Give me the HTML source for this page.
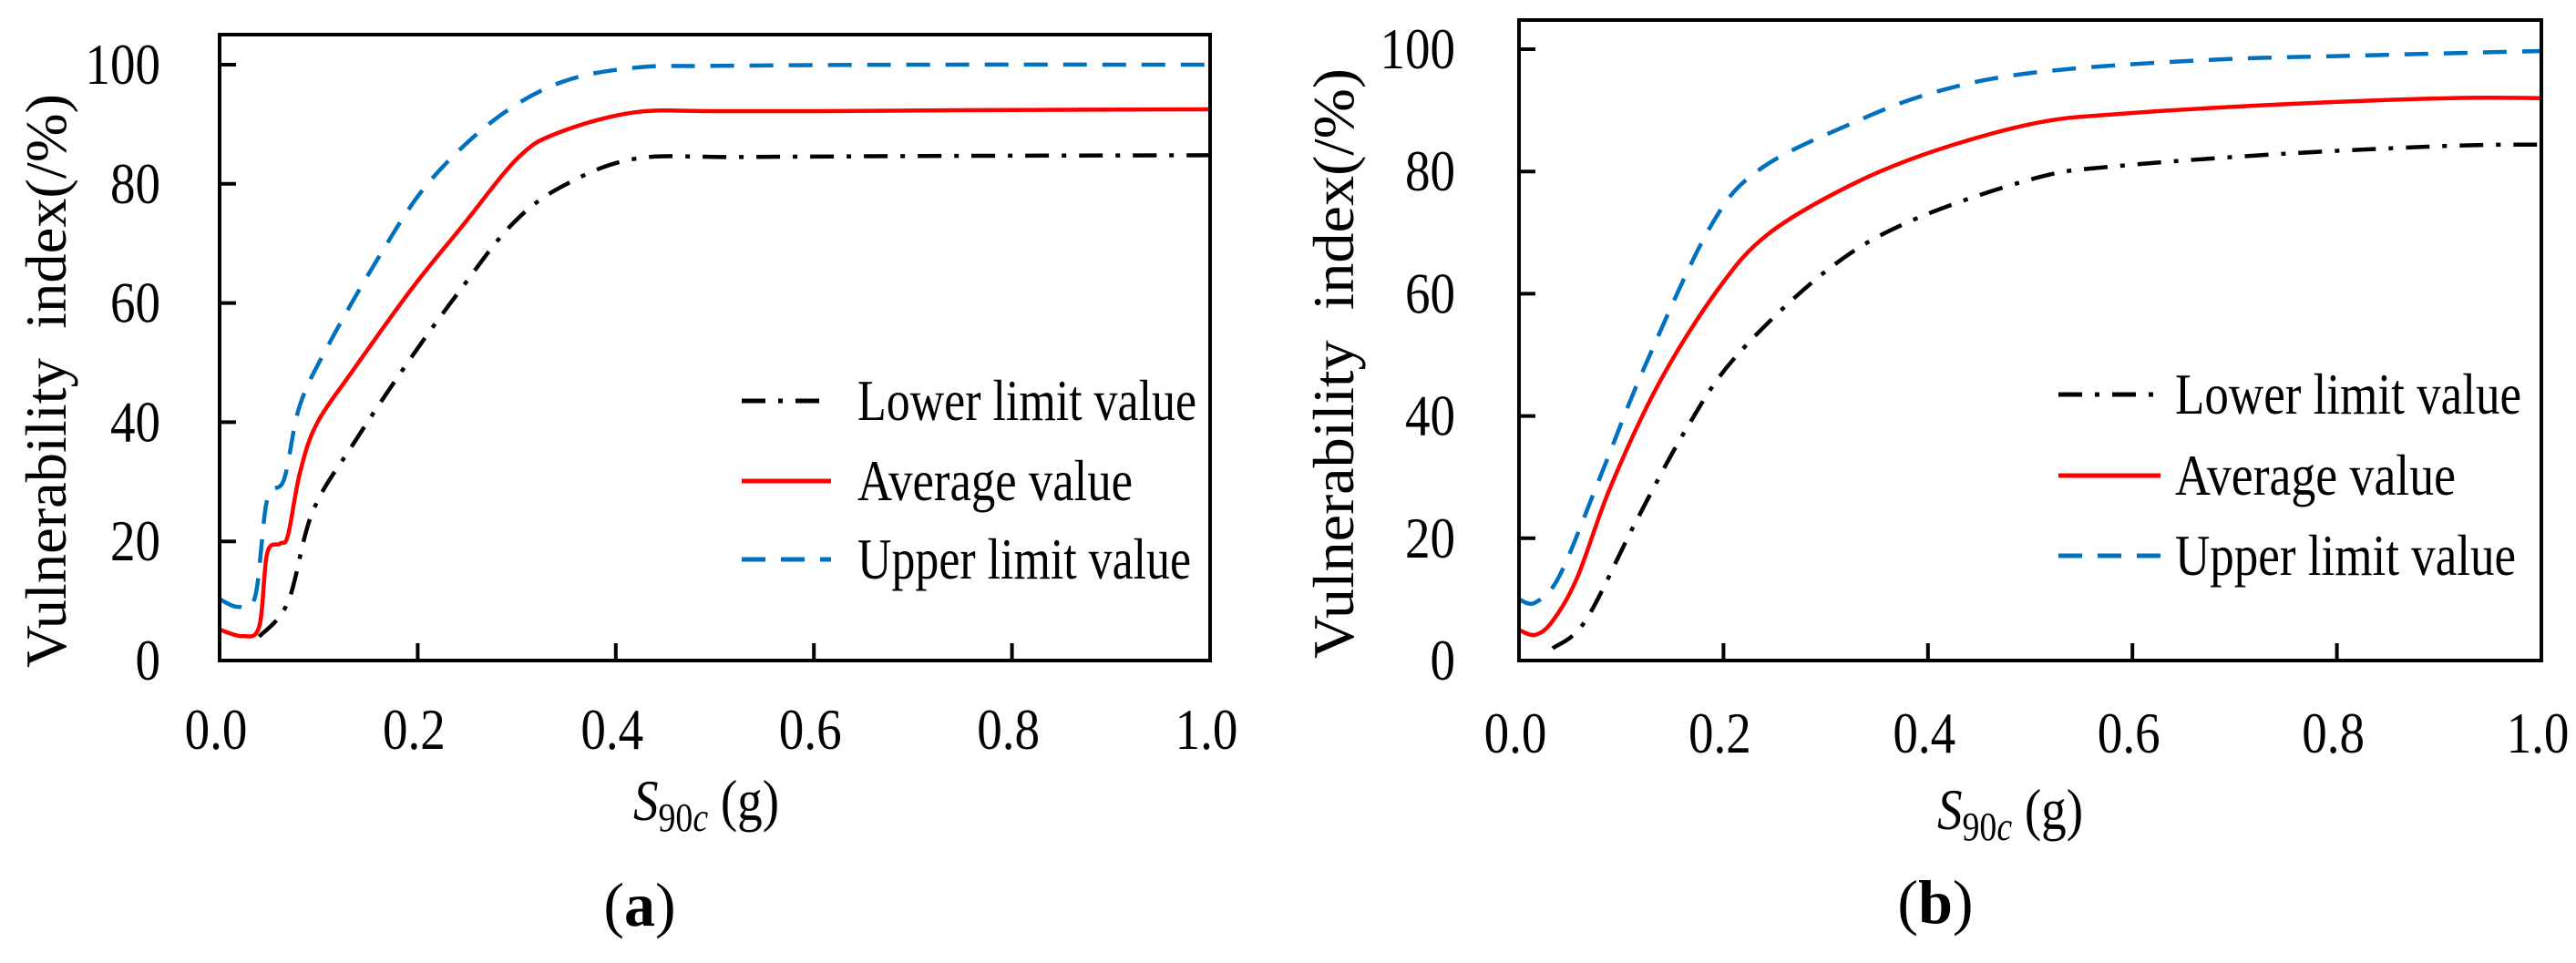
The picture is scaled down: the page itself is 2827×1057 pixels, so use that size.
<!DOCTYPE html>
<html><head><meta charset="utf-8"><style>
html,body{margin:0;padding:0;background:#fff;}
svg{display:block;}
svg text{font-family:"Liberation Serif","DejaVu Serif",serif;}
</style></head><body>
<svg id="fig" width="2827" height="1057" viewBox="0 0 2827 1057" xmlns="http://www.w3.org/2000/svg" font-family="Liberation Serif, DejaVu Serif, serif"></svg>
<script>
const xTicks=[0,0.2,0.4,0.6,0.8,1.0];
const xTickLabels=["0.0","0.2","0.4","0.6","0.8","1.0"];
const yTicks=[0,20,40,60,80,100];
const yTickLabels=["0","20","40","60","80","100"];
const seriesNames=["Lower limit value","Average value","Upper limit value"];

const aLowerX=[0.04,0.069,0.094,0.136,0.194,0.244,0.294,0.344,0.419,0.527,0.75,1.0];
const aLowerY=[4,9.8,25,36.6,51,62.4,73,79.4,84.2,84.5,84.7,84.8];
const aAvgX=[0,0.023,0.04,0.048,0.061,0.069,0.081,0.098,0.136,0.194,0.244,0.302,0.344,0.419,0.5,0.61,0.8,1.0];
const aAvgY=[5.2,4.1,5.7,18,19.6,21,31.4,39.7,49,62.4,72.7,84.5,88.7,92,92.2,92.2,92.4,92.5];
const aUpX=[0,0.019,0.036,0.048,0.065,0.081,0.11,0.16,0.21,0.277,0.344,0.419,0.5,0.7,1.0];
const aUpY=[10.3,9,10.8,27,30.4,42.8,53,67.5,80,90.7,97,99.5,99.8,100,100];

const bLowerX=[0.033,0.065,0.114,0.163,0.212,0.301,0.383,0.505,0.586,0.749,0.912,1.0];
const bLowerY=[2,6.5,22.6,37.7,49.7,63.8,71.9,78.9,80.9,82.9,84.2,84.4];
const bAvgX=[0,0.016,0.033,0.057,0.09,0.138,0.195,0.244,0.326,0.407,0.505,0.586,0.749,0.912,1.0];
const bAvgY=[5,4.2,6.5,13.6,28.6,45.7,60.8,69.8,77.9,83.4,87.9,89.4,91,92,92];
const bUpX=[0,0.016,0.04,0.081,0.122,0.187,0.236,0.326,0.407,0.505,0.668,0.831,1.0];
const bUpY=[10,9.5,14,30.7,47.7,70.9,80.4,87.9,93,96.2,98.2,99,99.7];

const NS="http://www.w3.org/2000/svg";
const FONT='"Liberation Serif","DejaVu Serif",serif';
const svg=document.getElementById('fig');
function mk(tag,parent){const e=document.createElementNS(NS,tag);parent.appendChild(e);if(tag==='text')e.style.fontFamily=FONT;return e;}

function smooth(pts){
  let d="M"+pts[0][0].toFixed(1)+","+pts[0][1].toFixed(1);
  for(let i=0;i<pts.length-1;i++){
    const p0=pts[i-1]||pts[i],p1=pts[i],p2=pts[i+1],p3=pts[i+2]||p2;
    const c1=[p1[0]+(p2[0]-p0[0])/6,p1[1]+(p2[1]-p0[1])/6];
    const c2=[p2[0]-(p3[0]-p1[0])/6,p2[1]-(p3[1]-p1[1])/6];
    d+=" C"+c1[0].toFixed(1)+","+c1[1].toFixed(1)+" "+c2[0].toFixed(1)+","+c2[1].toFixed(1)+" "+p2[0].toFixed(1)+","+p2[1].toFixed(1);
  }
  return d;
}
function txt(parent,x,y,s,anchor,size,sx){
  const t=mk('text',parent);
  t.setAttribute('transform','translate('+x+','+y+') scale('+sx+',1)');
  t.setAttribute('text-anchor',anchor);
  t.setAttribute('font-size',size);
  t.setAttribute('fill','#000');
  t.textContent=s;
  return t;
}
const styles=[
  {stroke:'#000',dash:'26,14,5,14'},
  {stroke:'#ff0000',dash:''},
  {stroke:'#0070c0',dash:'26,17'}
];

function panel(cfg){
  const g=mk('g',svg);
  
  
  const X=v=>cfg.x0+(cfg.x1-cfg.x0)*v;
  const Y=v=>cfg.y0+(cfg.y100-cfg.y0)*v/100;
  const sets=[[cfg.lx,cfg.ly],[cfg.ax,cfg.ay],[cfg.ux,cfg.uy]];
  sets.forEach((s,i)=>{
    const pts=s[0].map((v,j)=>[X(v),Y(s[1][j])]);
    const p=mk('path',g);
    p.setAttribute('d',smooth(pts));
    p.setAttribute('fill','none');
    p.setAttribute('stroke',styles[i].stroke);
    p.setAttribute('stroke-width','4.5');
    if(styles[i].dash)p.setAttribute('stroke-dasharray',styles[i].dash);
    
    
  });
  const r=mk('rect',g);
  r.setAttribute('x',cfg.x0);r.setAttribute('y',cfg.top);
  r.setAttribute('width',cfg.x1-cfg.x0);r.setAttribute('height',cfg.y0-cfg.top);
  r.setAttribute('fill','none');r.setAttribute('stroke','#000');r.setAttribute('stroke-width','4');
  
  
  yTicks.forEach((v,i)=>{
    const l=mk('line',g);
    l.setAttribute('x1',cfg.x0);l.setAttribute('x2',cfg.x0+18);
    l.setAttribute('y1',Y(v));l.setAttribute('y2',Y(v));
    l.setAttribute('stroke','#000');l.setAttribute('stroke-width','4');
    
    
    const t=txt(g,cfg.ylabR,Y(v)+21,yTickLabels[i],'end',64,0.86);
    
    
  });
  xTicks.forEach((v,i)=>{
    if(i>0&&i<xTicks.length-1){
      const l=mk('line',g);
      l.setAttribute('x1',X(v));l.setAttribute('x2',X(v));
      l.setAttribute('y1',cfg.y0);l.setAttribute('y2',cfg.y0-19);
      l.setAttribute('stroke','#000');l.setAttribute('stroke-width','4');
      
      
    }
    const t=txt(g,X(v)-4,cfg.xlabY,xTickLabels[i],'middle',64,0.86);
    
    
  });
  const xt=mk('text',g);
  xt.setAttribute('transform','translate('+cfg.xtX+','+cfg.xtY+') scale(0.86,1)');
  xt.setAttribute('text-anchor','middle');xt.setAttribute('font-size','64');
  xt.innerHTML='<tspan font-style="italic">S</tspan><tspan font-size="44" dy="12">90</tspan><tspan font-size="44" font-style="italic">c</tspan><tspan dy="-12"> (g)</tspan>';
  
  
  const yt=mk('text',g);
  yt.setAttribute('transform','translate('+cfg.ytX+','+cfg.ytY+') rotate(-90)');
  yt.setAttribute('text-anchor','middle');yt.setAttribute('font-size','64');
  yt.setAttribute('textLength',cfg.ytLen);yt.setAttribute('lengthAdjust','spacingAndGlyphs');
  yt.style.whiteSpace='pre';
  yt.textContent='Vulnerability  index(/%)';
  
  
  cfg.legY.forEach((ly,i)=>{
    const l=mk('line',g);
    l.setAttribute('x1',cfg.legX1);l.setAttribute('x2',cfg.legX2);
    l.setAttribute('y1',ly);l.setAttribute('y2',ly);
    l.setAttribute('stroke',styles[i].stroke);l.setAttribute('stroke-width','5');
    if(styles[i].dash)l.setAttribute('stroke-dasharray',styles[i].dash);
    
    
    const t=mk('text',g);
    t.setAttribute('x',cfg.legT);t.setAttribute('y',ly+21);
    t.setAttribute('font-size','64');
    t.setAttribute('textLength',cfg.legLen[i]);t.setAttribute('lengthAdjust','spacingAndGlyphs');
    t.textContent=seriesNames[i];
    
    
  });
  const c=mk('text',g);
  c.setAttribute('x',cfg.capX);c.setAttribute('y',cfg.capY);
  c.setAttribute('text-anchor','middle');c.setAttribute('font-size','68');
  c.innerHTML='(<tspan font-weight="bold">'+cfg.cap+'</tspan>)';
  
  
}

panel({name:'panel-a',x0:241,x1:1328,top:38,y0:725,y100:71,ylabR:176,xlabY:822,
  xtX:775,xtY:900,ytX:72,ytY:418,ytLen:630,
  legX1:814,legX2:912,legT:941,legY:[440,528,614],legLen:[372,302,366],
  capX:702,capY:1016,cap:'a',
  lx:aLowerX,ly:aLowerY,ax:aAvgX,ay:aAvgY,ux:aUpX,uy:aUpY});
panel({name:'panel-b',x0:1667,x1:2789,top:22,y0:725,y100:54,ylabR:1597,xlabY:826,
  xtX:2206,xtY:910,ytX:1485,ytY:399,ytLen:648,
  legX1:2259,legX2:2371,legT:2387,legY:[433,522,610],legLen:[380,308,374],
  capX:2124,capY:1013,cap:'b',
  lx:bLowerX,ly:bLowerY,ax:bAvgX,ay:bAvgY,ux:bUpX,uy:bUpY});
</script>
</body></html>
